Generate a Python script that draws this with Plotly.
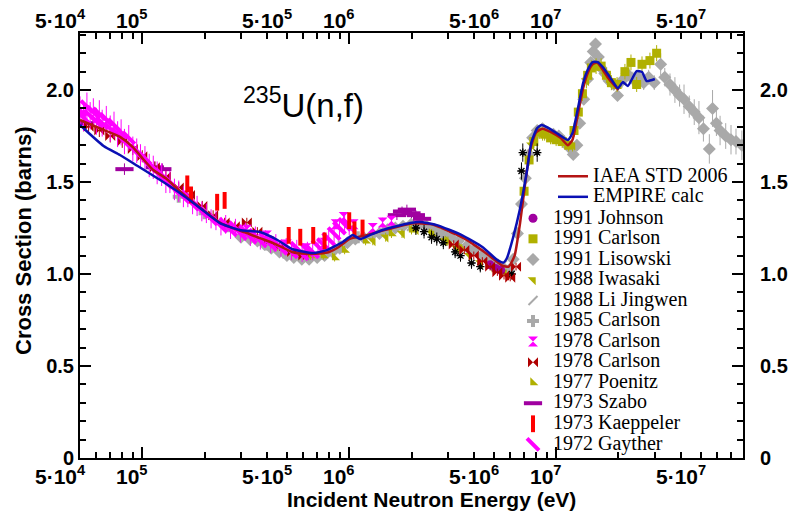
import math
import plotly.graph_objects as go

# ---------------- evaluated curves ----------------
iaea_E = [5.0e4, 5.7e4, 6.5e4, 7.8e4, 9.0e4, 1.0e5, 1.13e5, 1.3e5, 1.52e5, 1.9e5, 2.37e5, 2.8e5,
          3.2e5, 3.7e5, 4.3e5, 5.3e5, 6.2e5, 7.2e5, 8.0e5, 8.9e5, 1.0e6, 1.2e6, 1.5e6, 2.0e6,
          2.5e6, 3.0e6, 3.5e6, 4.0e6, 4.5e6, 5.0e6, 5.5e6, 5.9e6, 6.3e6, 6.7e6, 7.1e6, 7.5e6,
          8.0e6, 8.6e6, 9.5e6, 1.05e7, 1.14e7, 1.2e7, 1.27e7, 1.35e7, 1.43e7, 1.5e7, 1.58e7,
          1.68e7, 1.8e7, 2.0e7]
iaea_xs = [1.837, 1.81, 1.783, 1.745, 1.69, 1.63, 1.565, 1.52, 1.45, 1.36, 1.28, 1.245,
           1.223, 1.195, 1.168, 1.12, 1.11, 1.112, 1.12, 1.147, 1.19, 1.21, 1.24, 1.275,
           1.27, 1.235, 1.20, 1.16, 1.12, 1.08, 1.045, 1.04, 1.10, 1.28, 1.50, 1.68,
           1.77, 1.79, 1.77, 1.74, 1.70, 1.73, 1.86, 2.01, 2.10, 2.14, 2.15,
           2.11, 2.06, 2.00]

empire_E = [5.0e4, 6.5e4, 7.8e4, 9.5e4, 1.22e5, 1.52e5, 1.9e5, 2.37e5, 2.96e5, 3.7e5, 4.5e5,
            5.3e5, 6.7e5, 7.8e5, 9.3e5, 1.0e6, 1.04e6, 1.13e6, 1.25e6, 1.45e6, 1.97e6, 2.2e6,
            2.65e6, 3.5e6, 4.4e6, 5.2e6, 5.55e6, 5.8e6, 6.2e6, 6.67e6, 7.2e6, 7.6e6, 8.1e6,
            8.5e6, 9.2e6, 1.04e7, 1.14e7, 1.2e7, 1.27e7, 1.35e7, 1.42e7, 1.5e7, 1.59e7, 1.68e7,
            1.82e7, 1.99e7, 2.1e7, 2.22e7, 2.45e7, 2.6e7, 2.74e7, 3.0e7]
empire_xs = [1.81, 1.696, 1.647, 1.587, 1.511, 1.44, 1.359, 1.277, 1.239, 1.228, 1.185,
             1.136, 1.114, 1.13, 1.174, 1.20, 1.212, 1.19, 1.21, 1.239, 1.277, 1.283,
             1.266, 1.212, 1.147, 1.076, 1.062, 1.09, 1.20, 1.348, 1.549, 1.717, 1.793,
             1.81, 1.793, 1.755, 1.728, 1.766, 1.891, 2.038, 2.109, 2.152, 2.152, 2.125,
             2.07, 2.01, 2.043, 2.022, 2.103, 2.098, 2.049, 2.06]

# ---------------- experimental data ----------------
johnson91_E = [4.8e6, 5.1e6, 5.4e6]
johnson91_xs = [1.05, 1.03, 1.02]

carlson91_E = [7.0e6, 7.4e6, 7.8e6, 8.3e6, 8.8e6, 9.4e6, 1.0e7, 1.07e7, 1.15e7, 1.22e7, 1.28e7,
               1.34e7, 1.42e7, 1.48e7, 1.56e7, 1.65e7, 1.75e7, 1.85e7, 1.97e7, 2.15e7, 2.3e7,
               2.45e7, 2.6e7, 2.84e7, 3.06e7]
carlson91_xs = [1.45, 1.62, 1.72, 1.77, 1.76, 1.74, 1.73, 1.72, 1.70, 1.78, 1.88,
                1.98, 2.08, 2.12, 2.13, 2.13, 2.08, 2.04, 2.03, 2.10, 2.15,
                2.03, 2.14, 2.16, 2.20]

lisowski91_E = [3.0e5, 3.3e5, 3.6e5, 3.9e5, 4.2e5, 4.6e5, 5.0e5, 5.4e5, 5.9e5, 6.4e5, 7.0e5,
                7.6e5, 8.3e5, 9.0e5, 9.8e5, 1.07e6, 1.17e6, 1.28e6, 1.4e6, 1.53e6, 1.67e6,
                1.82e6, 1.99e6, 2.17e6, 2.37e6, 2.59e6, 2.83e6, 3.09e6, 3.37e6, 3.68e6, 4.02e6,
                4.39e6, 4.79e6, 5.23e6, 5.6e6, 5.9e6, 6.2e6, 6.5e6, 6.8e6, 7.1e6, 7.4e6,
                7.7e6, 8.1e6, 8.6e6, 9.1e6, 9.7e6, 1.03e7, 1.09e7, 1.15e7, 1.21e7,
                1.26e7, 1.3e7, 1.36e7, 1.42e7, 1.47e7, 1.51e7, 1.55e7, 1.6e7, 1.65e7, 1.72e7,
                1.8e7, 1.9e7, 1.98e7,
                2.08e7, 2.2e7, 2.35e7, 2.5e7, 2.65e7, 2.8e7, 2.98e7,
                3.2e7, 3.35e7, 3.55e7, 3.75e7, 3.95e7, 4.15e7, 4.4e7, 4.65e7, 4.9e7, 5.15e7,
                5.5e7, 5.7e7, 5.95e7, 6.2e7, 6.6e7, 7.0e7, 7.4e7, 7.9e7]
lisowski91_xs = [1.20, 1.19, 1.18, 1.16, 1.14, 1.12, 1.10, 1.09, 1.08, 1.08, 1.09,
                 1.10, 1.12, 1.14, 1.17, 1.19, 1.20, 1.21, 1.22, 1.24, 1.25,
                 1.26, 1.27, 1.27, 1.26, 1.24, 1.22, 1.20, 1.18, 1.15, 1.13,
                 1.10, 1.07, 1.05, 1.03, 1.02, 1.08, 1.22, 1.38, 1.52, 1.65,
                 1.74, 1.78, 1.79, 1.77, 1.76, 1.75, 1.72, 1.69, 1.65,
                 1.70, 1.82, 1.95, 2.06, 2.15, 2.21, 2.25, 2.18, 2.12, 2.09,
                 2.05, 2.03, 1.97,
                 2.05, 2.09, 2.06, 2.07, 2.04, 2.07, 2.04,
                 2.14, 2.07, 2.03, 2.00, 1.97, 1.95, 1.91, 1.88, 1.85, 1.79,
                 1.68, 1.90, 1.82, 1.78, 1.75, 1.73, 1.72, 1.70]
lisowski91_err = ([0.02] * 50 + [0.03] * 13 + [0.04] * 7 +
                  [0.06, 0.05, 0.06, 0.07, 0.06, 0.08, 0.06, 0.07, 0.09, 0.07,
                   0.08, 0.10, 0.07, 0.08, 0.07, 0.08, 0.07, 0.08])

iwasaki88_E = [1.3e6, 1.5e6, 1.8e6, 2.1e6, 2.5e6, 2.9e6, 3.3e6, 3.8e6, 4.3e6, 4.9e6, 5.6e6,
               7.6e6, 8.6e6, 1.0e7, 1.2e7, 1.4e7]
iwasaki88_xs = [1.18, 1.20, 1.22, 1.24, 1.22, 1.18, 1.14, 1.10, 1.06, 1.03, 1.01,
                1.70, 1.76, 1.74, 1.70, 2.05]

lijingwen88_E = [5e5, 7e5, 1e6, 1.4e6, 2e6, 2.8e6, 4e6, 5.5e6]
lijingwen88_xs = [1.11, 1.10, 1.18, 1.23, 1.26, 1.22, 1.12, 1.05]

carlson85_E = [1.5e5, 2.0e5, 2.6e5, 3.3e5, 4.0e5, 5.0e5, 6.0e5, 7.5e5, 9.0e5, 1.1e6]
carlson85_xs = [1.42, 1.33, 1.26, 1.21, 1.16, 1.12, 1.10, 1.11, 1.15, 1.20]

carlson78a_E = [3.2e5, 4.0e5, 5.0e5, 6.2e5, 7.6e5, 8.6e5, 9.4e5, 1.05e6, 1.3e6, 1.45e6, 1.6e6]
carlson78a_xs = [1.24, 1.21, 1.16, 1.14, 1.17, 1.27, 1.31, 1.27, 1.25, 1.28, 1.29]

carlson78b_E = [5.5e4, 6.2e4, 7.0e4, 8.0e4, 9.0e4, 1.0e5, 1.15e5, 1.3e5, 1.5e5, 1.7e5, 1.95e5,
                2.2e5, 2.5e5, 2.8e5, 3.2e5, 3.6e5, 4.1e5, 4.6e5, 5.3e5, 6.0e5,
                3.2e6, 3.6e6, 4.0e6, 4.4e6, 4.8e6, 5.2e6, 5.6e6, 6.0e6, 6.4e6]
carlson78b_xs = [1.80, 1.78, 1.75, 1.72, 1.68, 1.64, 1.58, 1.53, 1.47, 1.43, 1.37,
                 1.32, 1.28, 1.26, 1.28, 1.23, 1.18, 1.15, 1.12, 1.10,
                 1.16, 1.13, 1.10, 1.07, 1.04, 1.01, 0.99, 0.98, 1.04]

poenitz77_E = [3.5e5, 4.5e5, 5.5e5, 6.5e5, 7.5e5, 8.5e5, 9.5e5, 1.2e6, 1.6e6, 2.0e6, 2.5e6,
               3.0e6, 3.5e6]
poenitz77_xs = [1.20, 1.15, 1.11, 1.10, 1.10, 1.09, 1.13, 1.18, 1.22, 1.24, 1.22,
                1.18, 1.14]

szabo73_E = [5.3e4, 8.2e4, 1.15e5, 1.25e5, 1.7e6, 1.8e6, 1.9e6, 2.0e6, 2.1e6, 2.25e6]
szabo73_xs = [1.82, 1.57, 1.58, 1.57, 1.32, 1.34, 1.35, 1.33, 1.32, 1.30]

kaeppeler73_E = [1.65e5, 1.72e5, 2.3e5, 2.5e5, 5.1e5, 5.8e5, 6.7e5, 7.6e5, 1.0e6, 1.06e6, 1.16e6]
kaeppeler73_xs = [1.49, 1.43, 1.39, 1.40, 1.21, 1.20, 1.21, 1.18, 1.29, 1.24, 1.25]

gayther72_E = [5.0e4, 5.2e4, 5.4e4, 5.6e4, 5.8e4, 6.0e4, 6.2e4, 6.4e4, 6.7e4, 7.0e4, 7.3e4,
               7.6e4, 7.9e4, 8.2e4, 8.6e4, 9.0e4, 9.4e4, 9.8e4, 1.03e5, 1.08e5, 1.13e5,
               1.18e5, 1.24e5, 1.3e5, 1.36e5, 1.43e5, 1.5e5, 1.58e5, 1.66e5, 1.75e5, 1.84e5,
               1.94e5, 2.04e5, 2.15e5, 2.27e5, 2.4e5, 2.53e5, 2.67e5, 2.82e5, 2.98e5, 3.15e5,
               3.33e5, 3.52e5, 3.72e5, 3.94e5, 4.17e5, 4.42e5, 4.68e5, 4.96e5, 5.26e5, 5.58e5,
               5.92e5, 6.28e5, 6.66e5, 7.07e5, 7.5e5, 7.96e5, 8.45e5, 8.97e5, 9.5e5, 1.0e6]
gayther72_xs = [1.89, 1.85, 1.91, 1.86, 1.88, 1.83, 1.87, 1.82, 1.84, 1.79, 1.81,
                1.76, 1.77, 1.72, 1.74, 1.68, 1.67, 1.64, 1.63, 1.59, 1.58,
                1.55, 1.54, 1.50, 1.50, 1.46, 1.45, 1.42, 1.42, 1.38, 1.37,
                1.34, 1.33, 1.30, 1.29, 1.26, 1.27, 1.24, 1.25, 1.22, 1.23,
                1.20, 1.21, 1.18, 1.19, 1.16, 1.17, 1.14, 1.15, 1.12, 1.14,
                1.11, 1.13, 1.12, 1.15, 1.16, 1.19, 1.22, 1.25, 1.27, 1.26]

unlabeled_E = [2.1e6, 2.3e6, 2.5e6, 2.65e6, 2.85e6, 3.25e6, 3.45e6, 3.9e6, 4.3e6, 6.1e6,
               6.8e6, 6.9e6, 8.1e6]
unlabeled_xs = [1.25, 1.23, 1.20, 1.19, 1.17, 1.12, 1.10, 1.06, 1.04, 1.00,
                1.56, 1.66, 1.66]

# ---------------- axis labels ----------------
x_label_vals = [5e4, 1e5, 5e5, 1e6, 5e6, 1e7, 5e7]
x_label_text = ["5\u00b710<sup>4</sup>", "10<sup>5</sup>", "5\u00b710<sup>5</sup>", "10<sup>6</sup>",
                "5\u00b710<sup>6</sup>", "10<sup>7</sup>", "5\u00b710<sup>7</sup>"]
y_label_vals = [0, 0.5, 1.0, 1.5, 2.0]
y_label_text = ["0", "0.5", "1.0", "1.5", "2.0"]

X_MIN, X_MAX = 5e4, 8e7
Y_MAX = 2.31

GRAY = "#a9a9a9"
OLIVE = "#b0b000"
MAGENTA = "#ff00ff"
DARKRED = "#b00000"
RED = "#ff0000"
PURPLE = "#a000a0"

fig = go.Figure()


def lg(name):
    return '<span style="font-size:20px">' + name + '</span>'


def add_data(name, E, xs, symbol, color, size, rank, err_pct=2.0, err=None, lw=0,
             show=True, errx_pct=None):
    assert len(E) == len(xs)
    mk = dict(symbol=symbol, size=size, color=color)
    if lw:
        mk["line"] = dict(color=color, width=lw)
    else:
        mk["line"] = dict(width=0)
    if err is not None:
        assert len(err) == len(E)
        ey = dict(type="data", array=err, color=color, thickness=1, width=0)
    else:
        ey = dict(type="percent", value=err_pct, color=color, thickness=1, width=0)
    kw = {}
    if errx_pct:
        kw["error_x"] = dict(type="percent", value=errx_pct, color=color, thickness=1, width=0)
    fig.add_trace(go.Scatter(x=E, y=xs, mode="markers", name=lg(name), marker=mk,
                             error_y=ey, legend="legend2", legendrank=rank,
                             showlegend=show, **kw))


# drawing order (back to front)
add_data("1991 Lisowski", lisowski91_E, lisowski91_xs, "diamond", GRAY, 10, 3, err=lisowski91_err)
add_data("1988 Li Jingwen", lijingwen88_E, lijingwen88_xs, "line-ne", GRAY, 9, 5, lw=2)
add_data("1985 Carlson", carlson85_E, carlson85_xs, "cross", GRAY, 10, 6)
add_data("1977 Poenitz", poenitz77_E, poenitz77_xs, "triangle-sw", OLIVE, 9, 9)
add_data("1988 Iwasaki", iwasaki88_E, iwasaki88_xs, "triangle-ne", OLIVE, 9, 4)
add_data("1991 Carlson", carlson91_E, carlson91_xs, "square", OLIVE, 9, 2)
add_data("1991 Johnson", johnson91_E, johnson91_xs, "circle", PURPLE, 9, 1)
add_data("other", unlabeled_E, unlabeled_xs, "asterisk-open", "black", 7, 20, err_pct=3,
         lw=1.3, show=False, errx_pct=3)
add_data("1973 Szabo", szabo73_E, szabo73_xs, "line-ew", PURPLE, 13, 10, lw=4)
add_data("1978 Carlson", carlson78b_E, carlson78b_xs, "bowtie", DARKRED, 10, 8)
add_data("1978 Carlson", carlson78a_E, carlson78a_xs, "hourglass", MAGENTA, 10, 7)
add_data("1972 Gayther", gayther72_E, gayther72_xs, "line-nw", MAGENTA, 12, 12, err_pct=4, lw=4)
add_data("1973 Kaeppeler", kaeppeler73_E, kaeppeler73_xs, "line-ns", RED, 12, 11, lw=4)

fig.add_trace(go.Scatter(x=iaea_E, y=iaea_xs, mode="lines", name=lg("IAEA STD 2006"),
                         line=dict(color="#b41414", width=2.5, shape="spline", smoothing=0.5),
                         legend="legend", legendrank=1))
fig.add_trace(go.Scatter(x=empire_E, y=empire_xs, mode="lines", name=lg("EMPIRE calc"),
                         line=dict(color="#0a10b4", width=2.5, shape="spline", smoothing=0.5),
                         legend="legend", legendrank=2))

# ---------------- annotations (titles & tick labels) ----------------
PLOT_L, PLOT_R, PLOT_T, PLOT_B = 80, 743, 33, 458
PW, PH = PLOT_R - PLOT_L, PLOT_B - PLOT_T

ann = []
tick_font = dict(family="Liberation Sans", size=21, color="black", weight="bold")
for v, t in zip(x_label_vals, x_label_text):
    shift = -20 if t.startswith("5") else -10
    for ypx in (19, 475):
        ann.append(dict(x=math.log10(v), xref="x", y=(PLOT_B - ypx) / PH, yref="paper",
                        text=t, showarrow=False, xanchor="center", yanchor="middle",
                        xshift=shift, font=tick_font))
for v, t in zip(y_label_vals, y_label_text):
    ann.append(dict(x=1, xref="paper", y=v, yref="y", text=t, showarrow=False,
                    xanchor="left", yanchor="middle", xshift=15,
                    font=dict(family="Liberation Sans", size=20, color="black", weight="bold")))
ann.append(dict(x=(431 - PLOT_L) / PW, xref="paper", y=(PLOT_B - 499) / PH, yref="paper",
                text="Incident Neutron Energy (eV)", showarrow=False, xanchor="center",
                yanchor="middle",
                font=dict(family="Liberation Sans", size=21, color="black", weight="bold")))
ann.append(dict(x=(23 - PLOT_L) / PW, xref="paper", y=(PLOT_B - 241) / PH, yref="paper",
                text="Cross Section (barns)", showarrow=False, textangle=-90,
                xanchor="center", yanchor="middle",
                font=dict(family="Liberation Sans", size=22, color="black", weight="bold")))
ann.append(dict(x=(303 - PLOT_L) / PW, xref="paper", y=(PLOT_B - 103) / PH, yref="paper",
                text="<sup>235</sup>U(n,f)", showarrow=False, xanchor="center", yanchor="middle",
                font=dict(family="Liberation Sans", size=33, color="black")))

minor_x = [k * 10 ** p for p in (4, 5, 6, 7) for k in range(2, 10)
           if X_MIN < k * 10 ** p <= X_MAX]

fig.update_layout(
    width=794, height=516,
    margin=dict(l=PLOT_L, r=794 - PLOT_R, t=PLOT_T, b=516 - PLOT_B),
    paper_bgcolor="white", plot_bgcolor="white",
    showlegend=True,
    annotations=ann,
    xaxis=dict(type="log", range=[math.log10(X_MIN), math.log10(X_MAX)],
               showline=True, linecolor="black", linewidth=2, mirror="ticks",
               ticks="inside", tickvals=[1e5, 1e6, 1e7], ticklen=11, tickwidth=1.5,
               tickcolor="black", showticklabels=False, showgrid=False, zeroline=False,
               minor=dict(tickmode="array", tickvals=minor_x, ticks="inside", ticklen=6,
                          tickwidth=1.5, tickcolor="black", showgrid=False)),
    yaxis=dict(range=[0, Y_MAX], showline=True, linecolor="black", linewidth=2,
               mirror="ticks", ticks="inside", tickvals=y_label_vals, ticktext=y_label_text,
               ticklen=11, tickwidth=1.5, tickcolor="black", showgrid=False, zeroline=False,
               tickfont=dict(family="Liberation Sans", size=20, color="black", weight="bold"),
               minor=dict(dtick=0.1, ticks="inside", ticklen=6, tickwidth=1.5,
                          tickcolor="black", showgrid=False)),
    legend=dict(x=(553 - PLOT_L) / PW, xanchor="left", y=(PLOT_B - 161) / PH, yanchor="top",
                bgcolor="rgba(0,0,0,0)", borderwidth=0, itemwidth=30, tracegroupgap=0,
                font=dict(family="Liberation Serif", size=13.5, color="black")),
    legend2=dict(x=(513 - PLOT_L) / PW, xanchor="left", y=(PLOT_B - 203) / PH, yanchor="top",
                 bgcolor="rgba(0,0,0,0)", borderwidth=0, itemwidth=30, tracegroupgap=0,
                 font=dict(family="Liberation Serif", size=13.5, color="black")),
)

fig.write_html("out.html")
